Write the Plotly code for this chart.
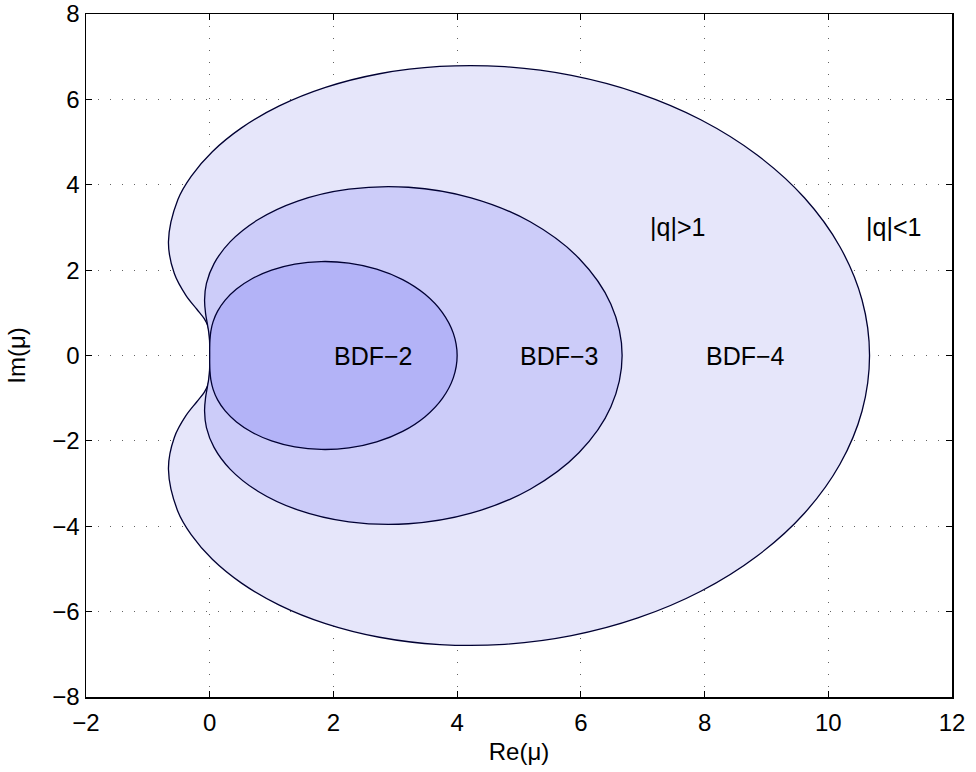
import plotly.graph_objects as go

# Boundary points of the stability regions (closed curves)
bdf2_x = [0, 0.000, 0.004, 0.018, 0.055, 0.128, 0.250, 0.433, 0.683, 1.000, 1.377, 1.801, 2.250,
          2.699, 3.119, 3.482, 3.762, 3.939, 4.000,
          3.939, 3.762, 3.482, 3.119, 2.699, 2.250, 1.801, 1.377, 1.000, 0.683, 0.433, 0.250,
          0.128, 0.055, 0.018, 0.004, 0.000, 0]
bdf2_y = [0, 0.176, 0.363, 0.567, 0.793, 1.040, 1.299, 1.558, 1.799, 2.000, 2.141, 2.201, 2.165,
          2.024, 1.778, 1.433, 1.005, 0.518, 0.000,
          -0.518, -1.005, -1.433, -1.778, -2.024, -2.165, -2.201, -2.141, -2.000, -1.799, -1.558,
          -1.299, -1.040, -0.793, -0.567, -0.363, -0.176, 0]

bdf3_x = [0, 0.000, -0.003, -0.015, -0.038, -0.067, -0.083, -0.053, 0.070, 0.333, 0.778, 1.422,
          2.250, 3.213, 4.225, 5.181, 5.968, 6.486, 6.667,
          6.486, 5.968, 5.181, 4.225, 3.213, 2.250, 1.422, 0.778, 0.333, 0.070, -0.053, -0.083,
          -0.067, -0.038, -0.015, -0.003, 0.000, 0]
bdf3_y = [0, 0.175, 0.351, 0.534, 0.740, 0.988, 1.299, 1.688, 2.153, 2.667, 3.179, 3.617, 3.897,
          3.942, 3.694, 3.132, 2.279, 1.201, 0,
          -1.201, -2.279, -3.132, -3.694, -3.942, -3.897, -3.617, -3.179, -2.667, -2.153, -1.688,
          -1.299, -0.988, -0.740, -0.534, -0.351, -0.175, 0]

bdf4_x = [0, 0.000, -0.001, -0.006, -0.028, -0.089, -0.208, -0.385, -0.572, -0.667, -0.516, -0.297,
          0.042, 0.514, 1.125, 1.872, 2.744, 3.719, 4.767, 5.849, 6.922, 7.939, 8.850, 9.614,
          10.188, 10.546, 10.667,
          10.546, 10.188, 9.614, 8.850, 7.939, 6.922, 5.849, 4.767, 3.719, 2.744, 1.872, 1.125,
          0.514, 0.042, -0.297, -0.516, -0.667, -0.572, -0.385, -0.208, -0.089, -0.028, -0.006,
          -0.001, 0.000, 0]
bdf4_y = [0, 0.175, 0.348, 0.519, 0.686, 0.862, 1.083, 1.410, 1.919, 2.667, 3.650, 4.204, 4.774,
          5.332, 5.846, 6.280, 6.600, 6.771, 6.766, 6.562, 6.148, 5.523, 4.697, 3.695, 2.548,
          1.300, 0,
          -1.300, -2.548, -3.695, -4.697, -5.523, -6.148, -6.562, -6.766, -6.771, -6.600, -6.280,
          -5.846, -5.332, -4.774, -4.204, -3.650, -2.667, -1.919, -1.410, -1.083, -0.862, -0.686,
          -0.519, -0.348, -0.175, 0]

labels = ["BDF\u22122", "BDF\u22123", "BDF\u22124", "|q|>1", "|q|<1"]
label_x = [2.0, 5.0, 8.0, 7.1, 10.6]
label_y = [0.0, 0.0, 0.0, 3.0, 3.0]

x_ticks = [-2, 0, 2, 4, 6, 8, 10, 12]
y_ticks = [-8, -6, -4, -2, 0, 2, 4, 6, 8]

FONT = "Liberation Sans, Arial, Helvetica, sans-serif"
FS = 24
edge = "#000033"

fig = go.Figure()
for xs, ys, col in [(bdf4_x, bdf4_y, "#e6e6fa"), (bdf3_x, bdf3_y, "#ccccf9"), (bdf2_x, bdf2_y, "#b3b3f7")]:
    fig.add_trace(go.Scatter(x=xs, y=ys, mode="lines", fill="toself", fillcolor=col,
                             line=dict(color=edge, width=1.3, shape="spline", smoothing=1.0),
                             hoverinfo="skip", showlegend=False))

for t, x, y in zip(labels, label_x, label_y):
    fig.add_annotation(x=x, y=y, text=t, showarrow=False, xanchor="left", yanchor="middle",
                       borderpad=0, font=dict(family=FONT, size=25, color="black"))

axis_common = dict(showline=True, linecolor="black", linewidth=1.5, mirror="ticks",
                   ticks="inside", ticklen=6, tickcolor="black", tickwidth=1,
                   showgrid=True, gridcolor="rgba(60,60,60,0.8)", gridwidth=1, griddash="1px,11px",
                   zeroline=False, automargin=False, ticklabeloverflow="allow",
                   tickfont=dict(family=FONT, size=FS, color="black"))

fig.update_xaxes(range=[-2, 12], tickvals=x_ticks, ticklabelstandoff=4,
                 title=dict(text="Re(\u03bc)", font=dict(family=FONT, size=FS), standoff=8),
                 **axis_common)
fig.update_yaxes(range=[-8, 8], tickvals=y_ticks, ticklabelstandoff=0,
                 title=dict(text="Im(\u03bc)", font=dict(family=FONT, size=FS), standoff=20),
                 **axis_common)

fig.update_layout(width=976, height=772, margin=dict(l=86, r=24, t=14, b=75),
                  plot_bgcolor="white", paper_bgcolor="white",
                  font=dict(family=FONT, size=FS, color="black"))

# remove the page's default body margin so the figure fills the window exactly
fig.write_html("out.html", config={"displayModeBar": False, "staticPlot": True},
               post_script="document.body.style.margin='0';document.body.style.overflow='hidden';")
